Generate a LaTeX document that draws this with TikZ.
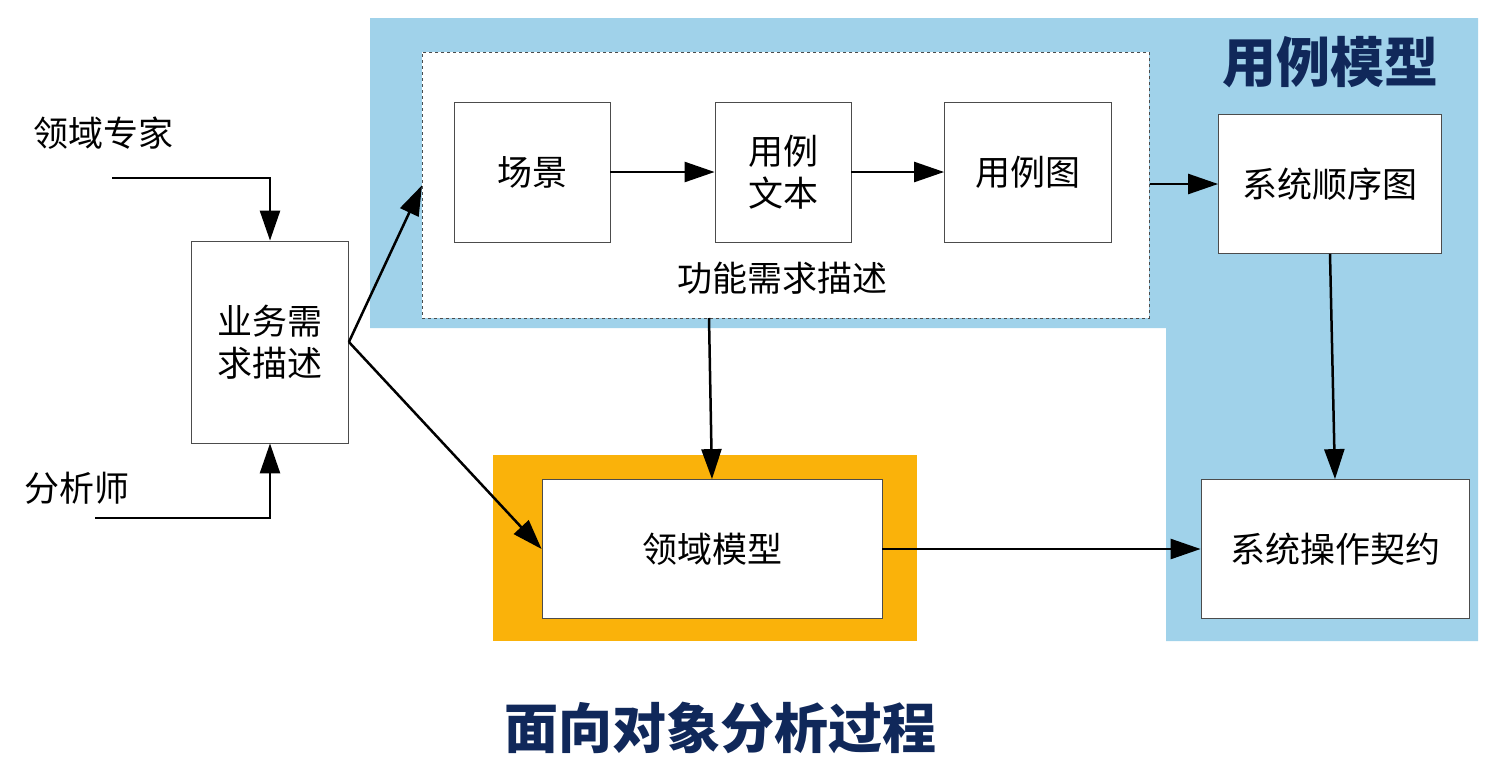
\documentclass[tikz,border=0pt]{standalone}
\usepackage{fontspec}
\setmainfont{Noto Sans CJK SC}
\usetikzlibrary{arrows.meta}
\definecolor{bluebg}{RGB}{160,210,234}
\definecolor{orng}{RGB}{250,178,10}
\definecolor{navy}{RGB}{16,40,90}
\begin{document}
\begin{tikzpicture}[x=1pt,y=-1pt,
  box/.style={draw=black!70,fill=white,line width=0.8pt,align=center,font=\fontsize{35}{42}\selectfont},
  lbl/.style={font=\fontsize{35}{42}\selectfont},
  title/.style={font=\fontsize{54}{60}\selectfont\bfseries,text=navy},
  arr/.style={line width=2.5pt,-{Triangle[length=30pt,width=20pt]}}]
\useasboundingbox (0,0) rectangle (1512,766);
\fill[bluebg] (370,18) -- (1478,18) -- (1478,641) -- (1166,641) -- (1166,328) -- (370,328) -- cycle;
\node[draw=black!70,dashed,fill=white,line width=0.6pt,minimum width=727pt,minimum height=266pt,anchor=north west] (fr) at (422,52) {};
\fill[orng] (493,455) rectangle (917,641);
\node[box,minimum width=156pt,minimum height=140pt] (cj) at (532,172) {场景};
\node[box,minimum width=136pt,minimum height=140pt] (ylwb) at (783,172) {用例\\文本};
\node[box,minimum width=167pt,minimum height=140pt] (ylt) at (1028,172) {用例图};
\node[box,minimum width=223pt,minimum height=139pt] (xt) at (1330,184) {系统顺序图};
\node[box,minimum width=157pt,minimum height=202pt] (yw) at (270,342) {业务需\\求描述};
\node[box,minimum width=340pt,minimum height=139pt] (ly) at (712,549) {领域模型};
\node[box,minimum width=268pt,minimum height=139pt] (qy) at (1335,549) {系统操作契约};
\node[title] (t1) at (1330,62) {用例模型};
\node[title] (t2) at (720,728) {面向对象分析过程};
\node[lbl] (gn) at (782,278) {功能需求描述};
\node[lbl] (zj) at (103,133) {领域专家};
\node[lbl] (fx) at (77,488) {分析师};
\coordinate (a1) at (112,178);
\coordinate (a2) at (95,518);
\draw[arr] (a1) -| (yw.north);
\draw[arr] (a2) -| (yw.south);
\draw[arr] (yw.east) -- (fr.west);
\draw[arr] (yw.east) -- (ly.west);
\draw[arr] (cj) -- (ylwb);
\draw[arr] (ylwb) -- (ylt);
\draw[arr] (fr.east |- xt) -- (xt.west);
\draw[arr] (709,318) -- (ly.north);
\draw[arr] (xt.south) -- (qy.north);
\draw[arr] (ly.east) -- (qy.west);
\end{tikzpicture}
\end{document}
